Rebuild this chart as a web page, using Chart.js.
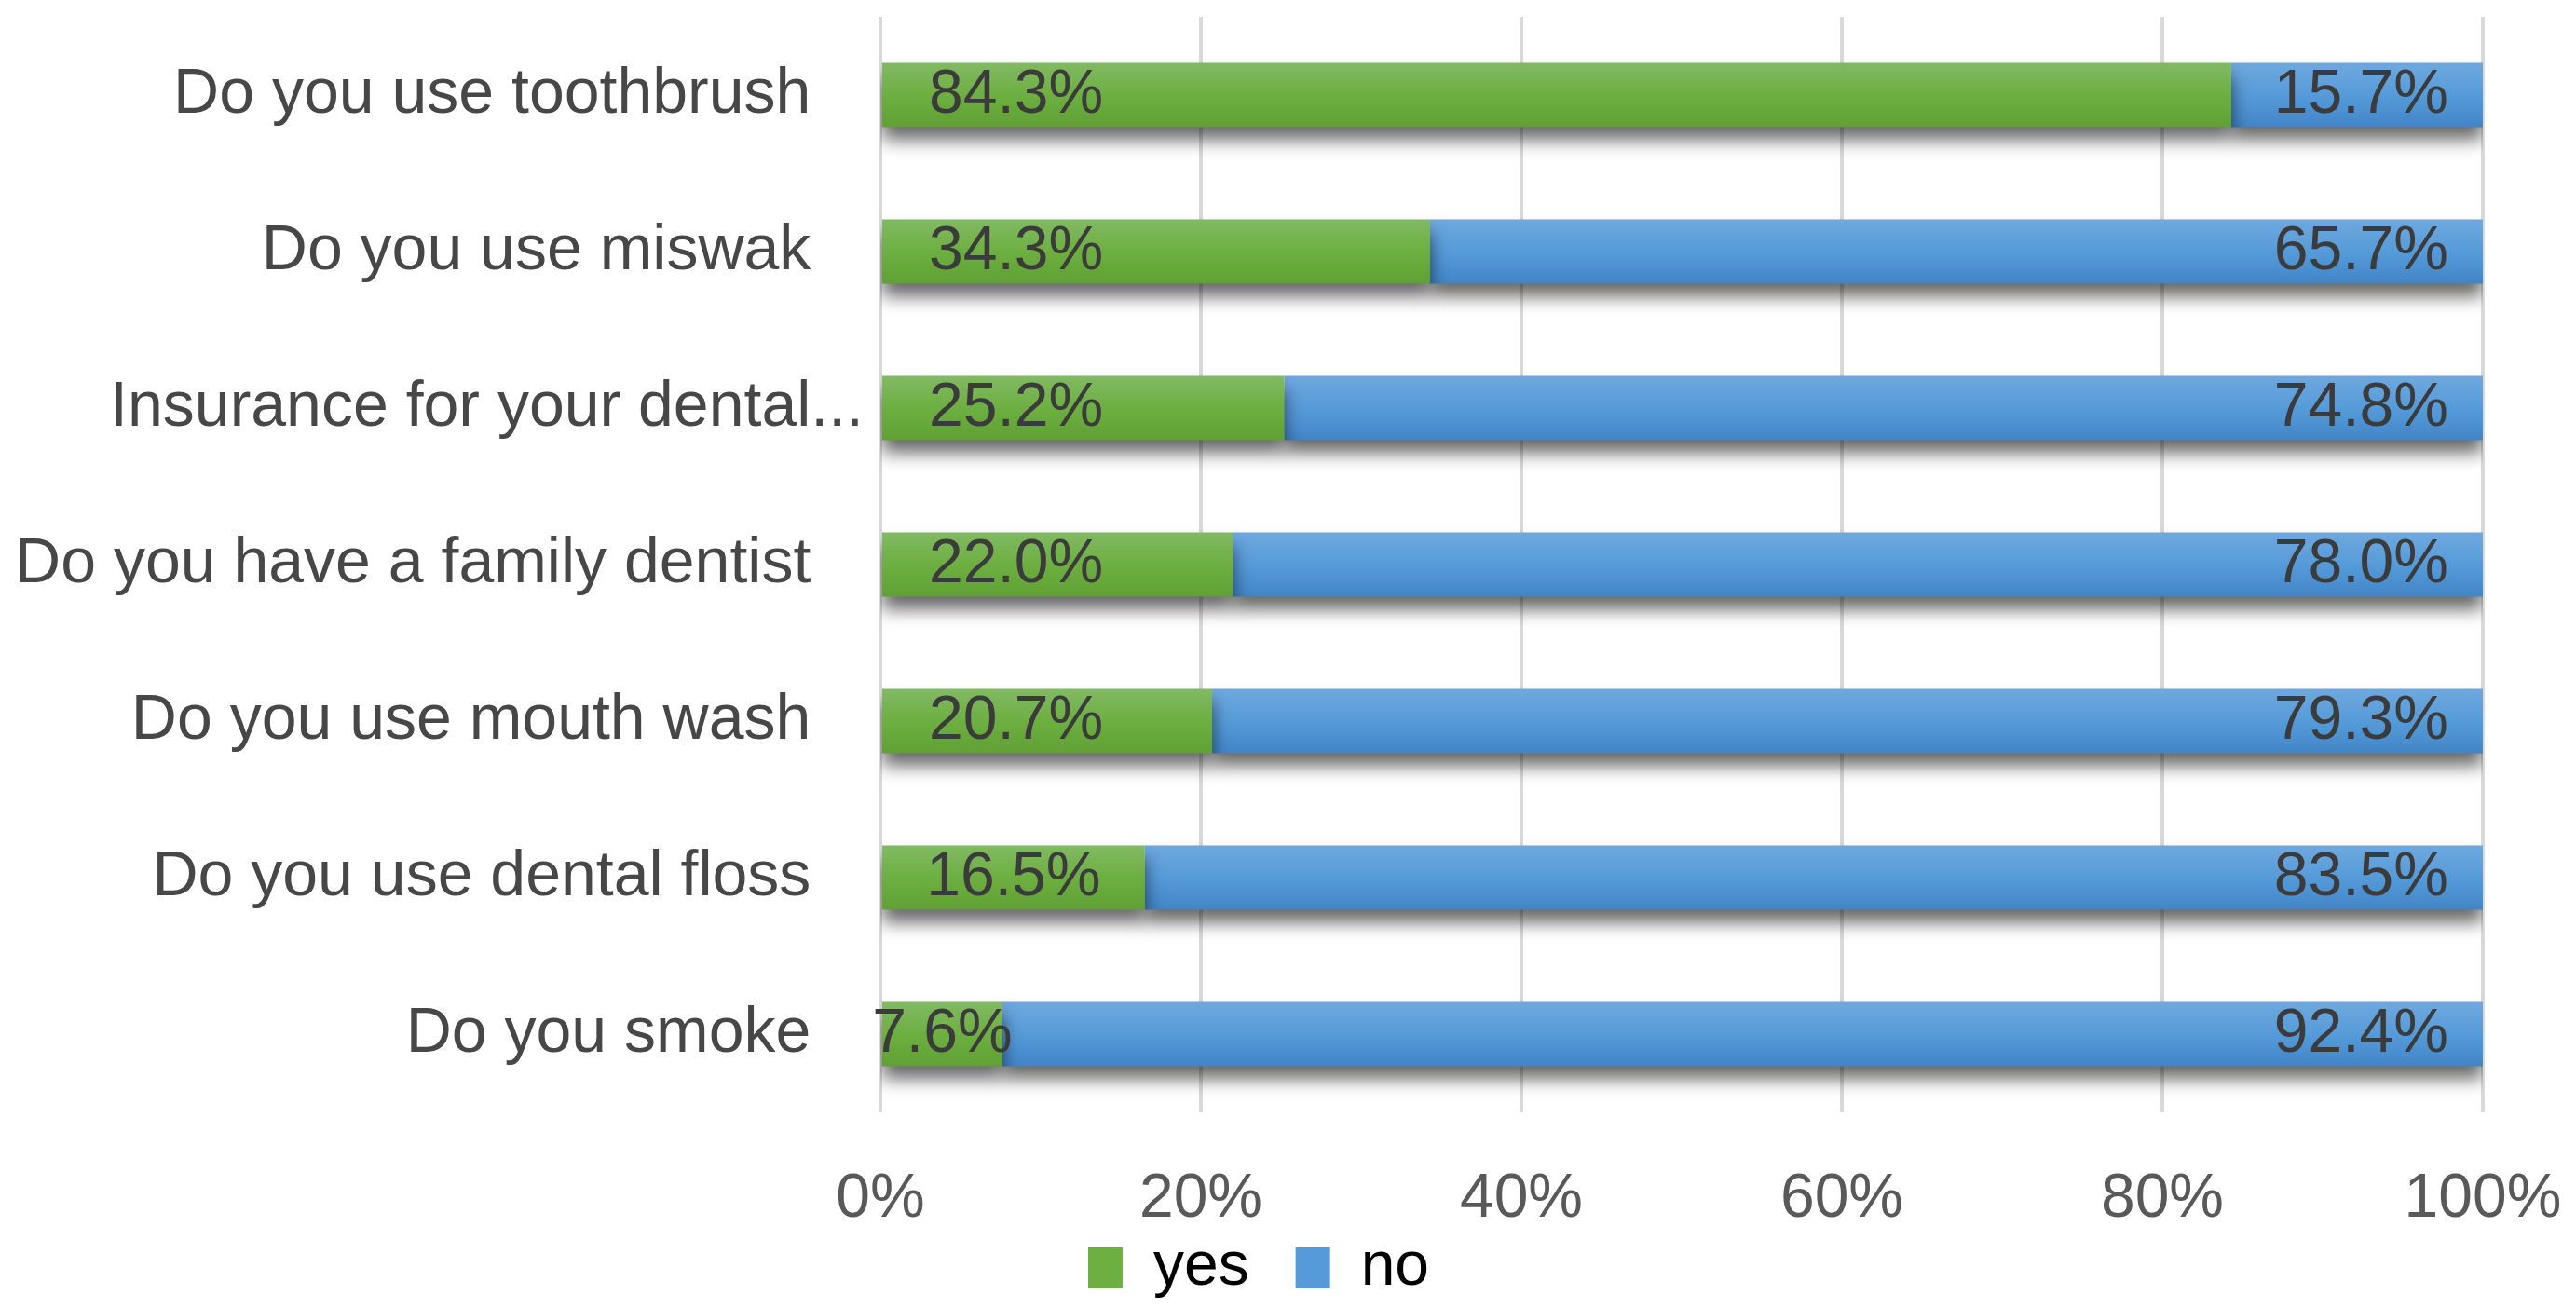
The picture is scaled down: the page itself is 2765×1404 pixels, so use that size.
<!DOCTYPE html>
<html>
<head>
<meta charset="utf-8">
<script src="https://cdn.jsdelivr.net/npm/chart.js@4/dist/chart.umd.min.js"></script>
<style>
  html, body { margin: 0; padding: 0; background: #ffffff; }
  canvas { display: block; }
</style>
</head>
<body>
<canvas id="chart" width="2765" height="1404"></canvas>
<script>
// Survey questions (top to bottom) and the share of answers per option, in percent
const categories = [
  'Do you use toothbrush',
  'Do you use miswak',
  'Insurance for your dental...',
  'Do you have a family dentist',
  'Do you use mouth wash',
  'Do you use dental floss',
  'Do you smoke'
];
const yesValues = [84.3, 34.3, 25.2, 22.0, 20.7, 16.5, 7.6];
const noValues  = [15.7, 65.7, 74.8, 78.0, 79.3, 83.5, 92.4];
const seriesNames = ['yes', 'no'];
const xTickValues = [0, 20, 40, 60, 80, 100];

const FONT = "'Liberation Sans', Arial, sans-serif";
const BAR_PCT = 0.41;

// vertical gradient fill for each bar, following its own band
function barGradient(stops) {
  return (context) => {
    const chart = context.chart;
    const yScale = chart.scales.y;
    if (!chart.chartArea || !yScale || context.dataIndex === undefined) return stops[1];
    const yc = yScale.getPixelForValue(context.dataIndex);
    const band = Math.abs(yScale.getPixelForValue(1) - yScale.getPixelForValue(0));
    const half = band * BAR_PCT / 2;
    const g = chart.ctx.createLinearGradient(0, yc - half, 0, yc + half);
    g.addColorStop(0, stops[0]);
    g.addColorStop(0.5, stops[1]);
    g.addColorStop(1, stops[2]);
    return g;
  };
}
const greenStops = ['#82b964', '#6daf41', '#60a034'];
const blueStops  = ['#6fa8de', '#569bd9', '#4185c7'];

// soft drop shadow under the bars
const barShadow = {
  id: 'barShadow',
  beforeDatasetsDraw(chart) {
    const c = chart.ctx;
    c.save();
    c.shadowColor = 'rgba(0,0,0,0.6)';
    c.shadowBlur = 18;
    c.shadowOffsetX = 0;
    c.shadowOffsetY = 14;
  },
  afterDatasetsDraw(chart) {
    chart.ctx.restore();
  }
};

// value labels: "yes" at the inside base, "no" at the inside end
const PAD_BASE = 50;
const PAD_END = 37;
const barLabels = {
  id: 'barLabels',
  afterDatasetsDraw(chart) {
    const c = chart.ctx;
    c.save();
    c.font = '66px ' + FONT;
    c.fillStyle = '#3b3b3b';
    c.textBaseline = 'middle';
    chart.data.datasets.forEach((ds, di) => {
      const meta = chart.getDatasetMeta(di);
      meta.data.forEach((bar, i) => {
        const text = ds.data[i].toFixed(1) + '%';
        const w = c.measureText(text).width;
        const left = Math.min(bar.base, bar.x);
        const right = Math.max(bar.base, bar.x);
        let x;
        if (di === 0) {
          if (right - left >= w + 2 * PAD_BASE) {
            c.textAlign = 'left';
            x = left + PAD_BASE;
          } else {
            c.textAlign = 'center';
            x = (left + right) / 2;
          }
        } else {
          c.textAlign = 'right';
          x = right - PAD_END;
        }
        c.fillText(text, x, bar.y + 1);
      });
    });
    c.restore();
  }
};

// legend centred under the left part of the plot; x labels may use the full height below the axis
const layoutTweaks = {
  id: 'layoutTweaks',
  afterLayout(chart) {
    const lg = chart.legend;
    if (lg) {
      const cx = 1351;
      const half = 500;
      lg.left = cx - half;
      lg.right = cx + half;
    }
    const xs = chart.scales.x;
    if (xs) xs.bottom = chart.height;
  }
};

new Chart(document.getElementById('chart'), {
  type: 'bar',
  data: {
    labels: categories,
    datasets: [
      {
        label: seriesNames[0],
        data: yesValues,
        backgroundColor: barGradient(greenStops),
        borderWidth: 0,
        barPercentage: BAR_PCT,
        categoryPercentage: 1
      },
      {
        label: seriesNames[1],
        data: noValues,
        backgroundColor: barGradient(blueStops),
        borderWidth: 0,
        barPercentage: BAR_PCT,
        categoryPercentage: 1
      }
    ]
  },
  options: {
    indexAxis: 'y',
    responsive: false,
    animation: false,
    devicePixelRatio: 1,
    layout: { padding: { top: 18, right: 100, bottom: 0, left: 0 } },
    scales: {
      x: {
        stacked: true,
        min: 0,
        max: 100,
        afterBuildTicks: (scale) => { scale.ticks = xTickValues.map(v => ({ value: v })); },
        afterFit: (scale) => {
          scale.height = 84;
          scale.paddingLeft = 0;
          scale.paddingRight = 0;
        },
        grid: { color: '#d9d9d9', lineWidth: 4, drawTicks: false },
        border: { display: false },
        ticks: {
          padding: 54,
          color: '#595959',
          font: { family: FONT, size: 66 },
          maxRotation: 0,
          callback: (v) => v + '%'
        }
      },
      y: {
        stacked: true,
        afterFit: (scale) => {
          scale.width = 945;
          scale.paddingTop = 0;
          scale.paddingBottom = 0;
        },
        grid: { display: false, drawTicks: false },
        border: { display: false },
        ticks: {
          padding: 18,
          color: '#474747',
          font: { family: FONT, size: 68 },
          callback: function (value) {
            const label = this.getLabelForValue(value);
            return label.endsWith('...') ? label : label + '\u00a0\u00a0\u00a0';
          }
        }
      }
    },
    plugins: {
      legend: {
        position: 'bottom',
        align: 'center',
        labels: {
          boxWidth: 37,
          boxHeight: 44,
          padding: 50,
          color: '#595959',
          font: { family: FONT, size: 66 },
          generateLabels: (chart) => chart.data.datasets.map((ds, i) => ({
            text: ds.label,
            fillStyle: (i === 0 ? greenStops : blueStops)[1],
            strokeStyle: 'rgba(0,0,0,0)',
            lineWidth: 0,
            hidden: false,
            datasetIndex: i
          }))
        }
      },
      tooltip: { enabled: false }
    }
  },
  plugins: [layoutTweaks, barShadow, barLabels]
});
</script>
</body>
</html>
